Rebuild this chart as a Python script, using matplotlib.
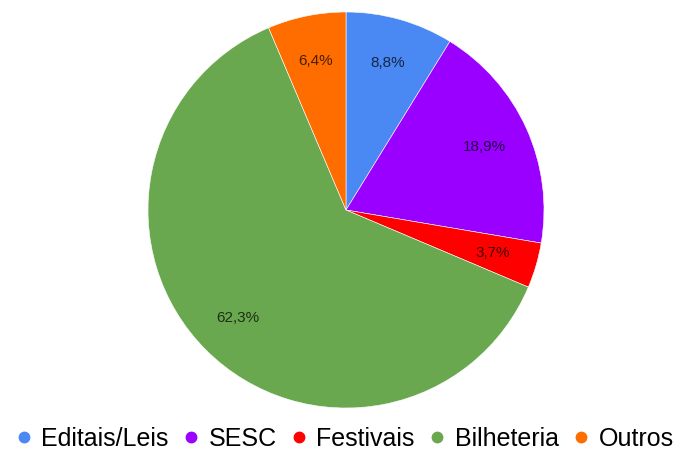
import matplotlib
matplotlib.use("Agg")
import numpy as np
import matplotlib.pyplot as plt
from matplotlib.lines import Line2D

# Fontes de receita (%)
categorias = ["Editais/Leis", "SESC", "Festivais", "Bilheteria", "Outros"]
valores = [8.8, 18.9, 3.7, 62.3, 6.4]
cores = ["#4a89f3", "#9900ff", "#ff0000", "#6aa84f", "#ff6d01"]

plt.rcParams["font.family"] = ["Liberation Sans", "DejaVu Sans"]

fig = plt.figure(figsize=(6.84, 4.5), dpi=100)
W, H = 684, 450
cx, cy, r = 346, 210, 198
ax = fig.add_axes([(cx - r) / W, (H - cy - r) / H, 2 * r / W, 2 * r / H])

wedges, textos = ax.pie(
    valores,
    colors=cores,
    startangle=90,
    counterclock=False,
    radius=1.0,
    wedgeprops=dict(linewidth=0.4, edgecolor="white"),
)

# rótulos com vírgula decimal
total = sum(valores)
acum = 0.0
for v in valores:
    meio = 90 - (acum + v / 2) / total * 360
    acum += v
    ang = np.deg2rad(meio)
    d = 0.77
    ax.text(d * np.cos(ang), d * np.sin(ang), f"{v:.1f}%".replace(".", ","),
            ha="center", va="center", fontsize=11, color="black", alpha=0.72)

ax.set_xlim(-1, 1)
ax.set_ylim(-1, 1)
ax.set_aspect("equal")
ax.axis("off")

handles = [Line2D([0], [0], marker="o", linestyle="", markersize=7.5,
                  markerfacecolor=c, markeredgecolor=c) for c in cores]
fig.legend(handles, categorias, loc="center", bbox_to_anchor=(345 / W, 1 - 439 / H),
           ncol=5, frameon=False, fontsize=18, handletextpad=0.4,
           columnspacing=0.6, handlelength=0.6, borderpad=0.1)

fig.savefig("out.png", dpi=100, facecolor="white")
